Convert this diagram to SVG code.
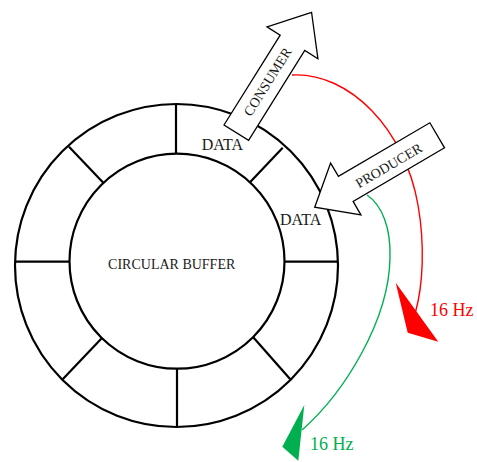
<svg xmlns="http://www.w3.org/2000/svg" width="477" height="462" viewBox="0 0 477 462">
<style>
.ring{fill:none;stroke:#000;stroke-width:2.2}
.spoke{stroke:#000;stroke-width:2.2}
.blk{fill:#fff;stroke:#000;stroke-width:1.3;stroke-linejoin:miter}
.t{font-family:"Liberation Serif","Times New Roman",serif;fill:#1a1a1a}
.red{fill:none;stroke:#ff0000;stroke-width:1.4}
.grn{fill:none;stroke:#00b050;stroke-width:1.4}
</style>
<defs>
<polygon id="arrowShape" points="0,-14.5 106,-14.5 106,-30 142,0 106,30 106,14.5 0,14.5"/>
</defs>
<rect width="477" height="462" fill="#fff"/>
<g id="buffer">
<circle class="ring" cx="176.5" cy="265.5" r="161.5"/>
<circle class="ring" cx="177" cy="261.2" r="107.5"/>
<line class="spoke" x1="176" y1="104" x2="176" y2="154"/>
<line class="spoke" x1="177" y1="368.5" x2="177" y2="427"/>
<line class="spoke" x1="15" y1="261.7" x2="69.5" y2="261.7"/>
<line class="spoke" x1="284.5" y1="261.7" x2="338" y2="261.7"/>
<line class="spoke" x1="250" y1="182.3" x2="282.7" y2="147.7"/>
<line class="spoke" x1="103.3" y1="182.7" x2="69" y2="146.7"/>
<line class="spoke" x1="101.7" y1="338.3" x2="62.7" y2="379.3"/>
<line class="spoke" x1="253" y1="337" x2="290.5" y2="379.5"/>
<text class="t" x="171.7" y="269" font-size="14" text-anchor="middle">CIRCULAR BUFFER</text>
</g>
<g id="connectors">
<path class="red" d="M292,75 C350,72 405,130 418,205 C425,245 423,285 415.5,312"/>
<polygon points="395.7,282.7 407.7,332.7 438.3,341.7" fill="#ff0000"/>
<path class="grn" d="M367,195 C382,205 391,228 390,258 C389,320 345,392 302,430"/>
<polygon points="304.3,405 282.3,446.7 298.3,460.7" fill="#00b050"/>
</g>
<g id="data1"><text class="t" x="201.7" y="150" font-size="16">DATA</text></g>
<g id="data2"><text class="t" x="280" y="225" font-size="16">DATA</text></g>
<g id="consumer">
<use href="#arrowShape" class="blk" transform="translate(236.3,132.7) rotate(-58)"/>
<text class="t" font-size="14" text-anchor="middle" transform="translate(267.5,81.7) rotate(-58)" y="4.8">CONSUMER</text>
</g>
<g id="producer">
<use href="#arrowShape" class="blk" transform="translate(437.2,135.3) rotate(149.6)"/>
<text class="t" font-size="14" text-anchor="middle" transform="translate(388.7,165.5) rotate(-30.4)" y="4.8">PRODUCER</text>
</g>
<g id="labels">
<text class="t" x="430" y="315.5" font-size="18" style="fill:#ff0000">16 Hz</text>
<text class="t" x="310" y="449.5" font-size="18" style="fill:#00b050">16 Hz</text>
</g>
</svg>
